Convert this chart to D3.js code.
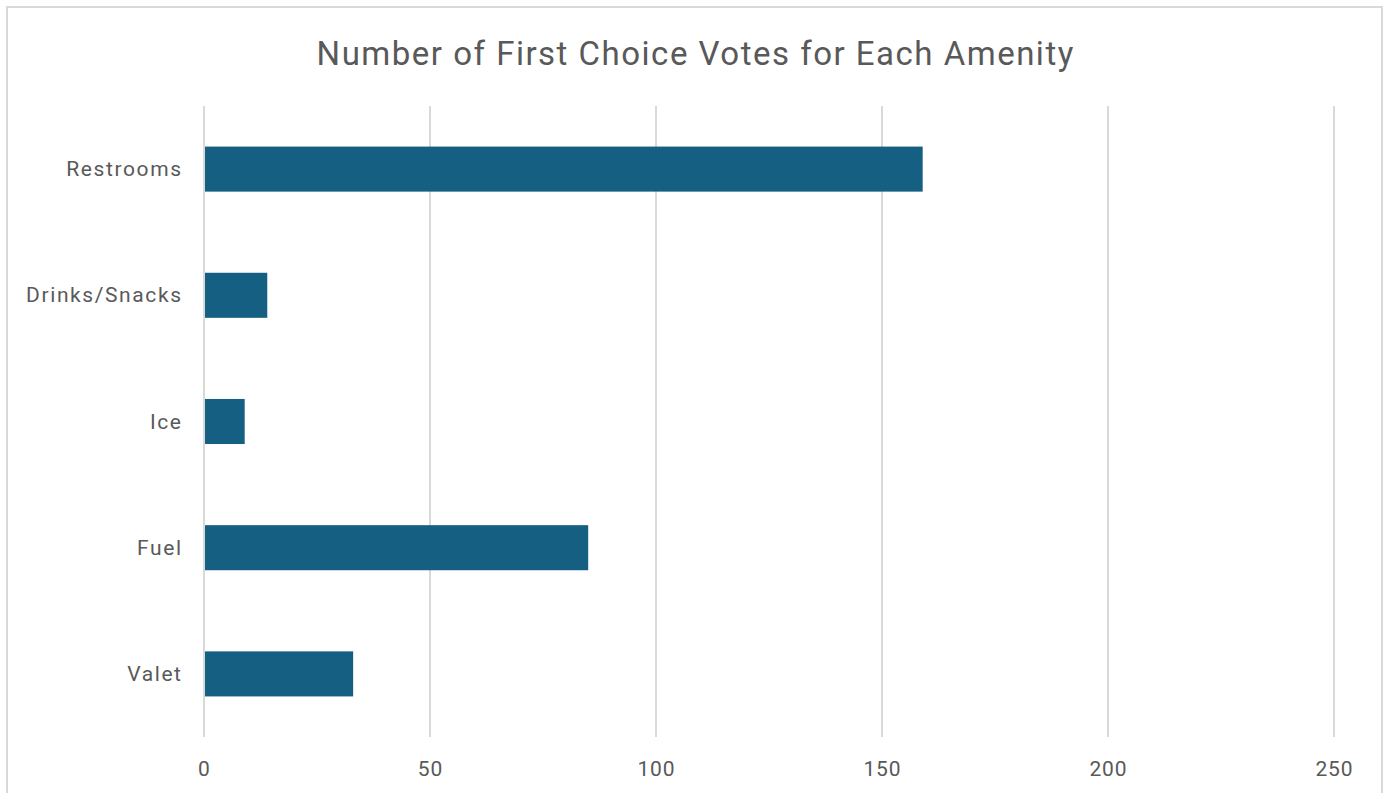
<!DOCTYPE html>
<html>
<head>
<meta charset="utf-8">
<script src="https://cdn.jsdelivr.net/npm/d3@7"></script>
<style>
  html, body { margin: 0; padding: 0; background: #fff; }
  svg { display: block; }
</style>
</head>
<body>
<svg id="chart" width="1385" height="793"></svg>
<script>
const categories = ["Restrooms", "Drinks/Snacks", "Ice", "Fuel", "Valet"];
const votes = [159, 14, 9, 85, 33];
const tickValues = [0, 50, 100, 150, 200, 250];
const title = "Number of First Choice Votes for Each Amenity";

const W = 1385, H = 793;
const svg = d3.select("#chart");
const font = "Roboto, 'DejaVu Sans', sans-serif";
const textColor = "#595959";

// chart border
svg.append("rect")
  .attr("x", 7).attr("y", 7)
  .attr("width", 1375).attr("height", 800)
  .attr("fill", "#fff")
  .attr("stroke", "#d9d9d9").attr("stroke-width", 2);

const margin = { left: 204, right: W - 1334, top: 106, bottom: H - 737 };

const x = d3.scaleLinear().domain([0, 250]).range([margin.left, W - margin.right]);
const y = d3.scaleBand().domain(categories).range([margin.top, H - margin.bottom]).paddingInner(0.643).paddingOuter(0.3215);

// gridlines
svg.append("g").selectAll("line").data(tickValues).join("line")
  .attr("x1", d => x(d)).attr("x2", d => x(d))
  .attr("y1", margin.top).attr("y2", H - margin.bottom)
  .attr("stroke", "#d9d9d9").attr("stroke-width", 2);

// bars
svg.append("g").selectAll("rect").data(categories).join("rect")
  .attr("x", x(0) + 1)
  .attr("y", d => y(d))
  .attr("width", (d, i) => x(votes[i]) - x(0) - 1)
  .attr("height", y.bandwidth())
  .attr("fill", "#156082");

// x tick labels
svg.append("g").selectAll("text").data(tickValues).join("text")
  .attr("x", d => x(d) + 0.4).attr("y", 769)
  .attr("text-anchor", "middle").attr("dominant-baseline", "central")
  .attr("font-family", font).attr("font-size", 21)
  .attr("letter-spacing", 0.8).attr("fill", textColor)
  .text(d => d);

// category labels
svg.append("g").selectAll("text").data(categories).join("text")
  .attr("x", 182.6).attr("y", d => y(d) + y.bandwidth() / 2)
  .attr("text-anchor", "end").attr("dominant-baseline", "central")
  .attr("font-family", font).attr("font-size", 21)
  .attr("letter-spacing", 1.6).attr("fill", textColor)
  .text(d => d);

// title
svg.append("text")
  .attr("x", 695.7).attr("y", 53)
  .attr("text-anchor", "middle").attr("dominant-baseline", "central")
  .attr("font-family", font).attr("font-size", 33)
  .attr("letter-spacing", 1.5).attr("fill", textColor)
  .text(title);
</script>
</body>
</html>
